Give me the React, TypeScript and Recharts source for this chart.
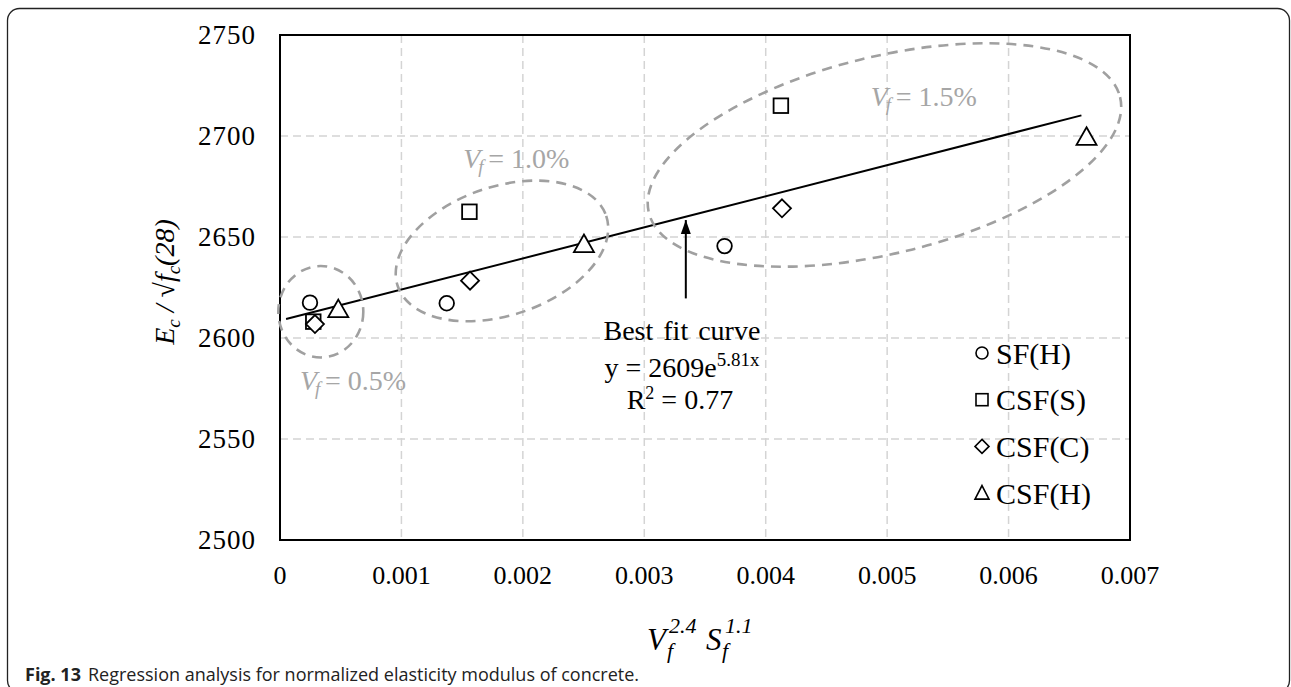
import React from 'react';
import {
  ComposedChart,
  XAxis,
  YAxis,
  CartesianGrid,
  Scatter,
  Line,
  ReferenceDot,
  ReferenceLine,
  ReferenceArea,
} from 'recharts';

const SERIF = '"Liberation Serif", "Times New Roman", serif';
const SANS = '"Open Sans", "Noto Sans", sans-serif';

// ---- axis ticks ----
const X_TICKS = [0, 0.001, 0.002, 0.003, 0.004, 0.005, 0.006, 0.007];
const X_TICK_LABELS = ['0', '0.001', '0.002', '0.003', '0.004', '0.005', '0.006', '0.007'];
const Y_TICKS = [2500, 2550, 2600, 2650, 2700, 2750];

// ---- series (x = Vf^2.4 Sf^1.1, y = Ec / sqrt(fc(28))) ----
const SF_H = [
  { x: 0.000247, y: 2617.5 },
  { x: 0.001373, y: 2617.2 },
  { x: 0.003661, y: 2645.5 },
];
const CSF_S = [
  { x: 0.000274, y: 2608.1 },
  { x: 0.00156, y: 2662.5 },
  { x: 0.004125, y: 2715.0 },
];
const CSF_C = [
  { x: 0.000288, y: 2606.9 },
  { x: 0.001565, y: 2628.4 },
  { x: 0.004134, y: 2664.2 },
];
const CSF_H = [
  { x: 0.00048, y: 2614.3 },
  { x: 0.002503, y: 2646.5 },
  { x: 0.006642, y: 2699.6 },
];
// best fit curve
const FIT = [
  { x: 0.00005, y: 2609.4 },
  { x: 0.0033, y: 2659.4 },
  { x: 0.0066, y: 2710.2 },
];

// ---- annotation groups (Vf = 0.5 / 1.0 / 1.5 %) ----
const GROUP_LABELS = ['0.5', '1.0', '1.5'];
const GROUP_CENTERS = [
  { x: 0.000336, y: 2613.0 },
  { x: 0.001828, y: 2643.1 },
  { x: 0.004978, y: 2690.6 },
];
const GROUP_LABEL_POS = [
  { x: 0.000165, y: 2579.2 },
  { x: 0.001509, y: 2689.1 },
  { x: 0.004865, y: 2719.5 },
];
const ELLIPSE_GEOM = [
  { rx: 42.5, ry: 45.7, angle: 0 },
  { rx: 110, ry: 64.3, angle: -18.6 },
  { rx: 242.6, ry: 98.4, angle: -13.8 },
];
const ARROW_TIP = { x: 0.003342, y: 2658.4 };
const ARROW_BASE = { x: 0.003342, y: 2619.6 };
const FIT_TEXT_POS = { x: 0.00331, y: 2604 };

const LEGEND = [
  { name: 'SF(H)', shape: 'circle' },
  { name: 'CSF(S)', shape: 'square' },
  { name: 'CSF(C)', shape: 'diamond' },
  { name: 'CSF(H)', shape: 'triangle' },
];

const MARK = { fill: '#fff', stroke: '#000', strokeWidth: 1.8 };

const CircleMark = (p: any) => <circle cx={p.cx} cy={p.cy} r={7.3} {...MARK} />;
const SquareMark = (p: any) => (
  <rect x={p.cx - 7.3} y={p.cy - 7.3} width={14.6} height={14.6} {...MARK} />
);
const DiamondMark = (p: any) => (
  <polygon
    points={`${p.cx},${p.cy - 9} ${p.cx + 9},${p.cy} ${p.cx},${p.cy + 9} ${p.cx - 9},${p.cy}`}
    {...MARK}
  />
);
const TriangleMark = (p: any) => (
  <polygon
    points={`${p.cx},${p.cy - 9.5} ${p.cx + 10},${p.cy + 8} ${p.cx - 10},${p.cy + 8}`}
    {...MARK}
  />
);

const XTick = (p: any) => (
  <text
    x={p.x}
    y={p.y + 35}
    dy="0.35em"
    textAnchor="middle"
    fontFamily={SERIF}
    fontSize={26}
    fill="#000"
  >
    {X_TICK_LABELS[p.index] ?? String(p.payload.value)}
  </text>
);
const YTick = (p: any) => (
  <text
    x={p.x - 24}
    y={p.y}
    dy="0.35em"
    textAnchor="end"
    fontFamily={SERIF}
    fontSize={27}
    letterSpacing={1}
    fill="#000"
  >
    {String(p.payload.value)}
  </text>
);

const makeEllipse = (i: number) => (p: any) => {
  const g = ELLIPSE_GEOM[i];
  return (
    <ellipse
      cx={p.cx}
      cy={p.cy}
      rx={g.rx}
      ry={g.ry}
      transform={`rotate(${g.angle} ${p.cx} ${p.cy})`}
      fill="none"
      stroke="#a0a0a0"
      strokeWidth={2.6}
      strokeDasharray="10 7"
    />
  );
};

const makeGroupLabel = (i: number) => (p: any) => (
  <g fontFamily={SERIF} fill="#a6a6a6">
    <text x={p.cx} y={p.cy} dy="0.35em" fontSize={28} fontStyle="italic">
      V
    </text>
    <text x={p.cx + 15} y={p.cy + 8} dy="0.35em" fontSize={19} fontStyle="italic">
      f
    </text>
    <text x={p.cx + 25} y={p.cy} dy="0.35em" fontSize={28}>
      {`= ${GROUP_LABELS[i]}%`}
    </text>
  </g>
);

const ArrowHead = (p: any) => (
  <polygon
    points={`${p.cx},${p.cy} ${p.cx - 5},${p.cy + 14} ${p.cx + 5},${p.cy + 14}`}
    fill="#000"
  />
);

const FitText = (p: any) => (
  <g fontFamily={SERIF} fontSize={28} fill="#000">
    <text x={p.cx} y={p.cy} dy="0.35em" textAnchor="middle" wordSpacing={3}>
      Best fit curve
    </text>
    <text x={p.cx} y={p.cy + 37} dy="0.35em" textAnchor="middle">
      <tspan>y = 2609e</tspan>
      <tspan fontSize={19} dy={-11}>
        5.81x
      </tspan>
    </text>
    <text x={p.cx - 2} y={p.cy + 69} dy="0.35em" textAnchor="middle">
      <tspan>R</tspan>
      <tspan fontSize={18} dy={-10}>
        2
      </tspan>
      <tspan dy={10}> = 0.77</tspan>
    </text>
  </g>
);

const legendIcon = (shape: string, cx: number, cy: number) => {
  const s = { fill: '#fff', stroke: '#000', strokeWidth: 1.6 };
  if (shape === 'circle') return <circle cx={cx} cy={cy} r={6} {...s} />;
  if (shape === 'square')
    return <rect x={cx - 6} y={cy - 6} width={12} height={12} {...s} />;
  if (shape === 'diamond')
    return (
      <polygon
        points={`${cx},${cy - 7} ${cx + 7},${cy} ${cx},${cy + 7} ${cx - 7},${cy}`}
        {...s}
      />
    );
  return (
    <polygon points={`${cx},${cy - 7.5} ${cx + 7},${cy + 6} ${cx - 7},${cy + 6}`} {...s} />
  );
};

export default function App() {
  return (
    <div
      style={{
        position: 'absolute',
        left: 0,
        top: 0,
        width: 1291,
        height: 687,
        background: '#fff',
        overflow: 'hidden',
      }}
    >
      <svg width={1291} height={687} style={{ position: 'absolute', left: 0, top: 0 }}>
        <rect
          x={7.5}
          y={8.5}
          width={1282}
          height={684}
          rx={12}
          fill="none"
          stroke="#222"
          strokeWidth={1.3}
        />
      </svg>
      <div style={{ position: 'absolute', left: 0, top: 0 }}>
        <ComposedChart
          width={1291}
          height={687}
          margin={{ top: 35, right: 161, bottom: 0, left: 0 }}
        >
          <CartesianGrid stroke="#d4d4d4" strokeWidth={1.5} strokeDasharray="8 5" />
          <XAxis
            type="number"
            dataKey="x"
            domain={[0, 0.007]}
            ticks={X_TICKS}
            interval={0}
            height={147}
            tickLine={false}
            tickSize={0}
            tickMargin={0}
            axisLine={{ stroke: '#000', strokeWidth: 2 }}
            tick={<XTick />}
            allowDataOverflow
          />
          <YAxis
            type="number"
            dataKey="y"
            domain={[2500, 2750]}
            ticks={Y_TICKS}
            interval={0}
            width={280}
            tickLine={false}
            tickSize={0}
            tickMargin={0}
            axisLine={{ stroke: '#000', strokeWidth: 2 }}
            tick={<YTick />}
            allowDataOverflow
          />
          <ReferenceArea
            x1={0}
            x2={0.007}
            y1={2500}
            y2={2750}
            fill="none"
            fillOpacity={0}
            stroke="#000"
            strokeWidth={2}
          />
          {GROUP_CENTERS.map((c, i) => (
            <ReferenceDot key={'e' + i} x={c.x} y={c.y} r={1} shape={makeEllipse(i)} />
          ))}
          {GROUP_LABEL_POS.map((c, i) => (
            <ReferenceDot key={'l' + i} x={c.x} y={c.y} r={1} shape={makeGroupLabel(i)} />
          ))}
          <ReferenceLine
            segment={[
              { x: ARROW_BASE.x, y: ARROW_BASE.y },
              { x: ARROW_TIP.x, y: ARROW_TIP.y },
            ]}
            stroke="#000"
            strokeWidth={2}
          />
          <ReferenceDot x={ARROW_TIP.x} y={ARROW_TIP.y} r={1} shape={ArrowHead} />
          <ReferenceDot x={FIT_TEXT_POS.x} y={FIT_TEXT_POS.y} r={1} shape={FitText} />
          <Line
            data={FIT}
            dataKey="y"
            type="linear"
            stroke="#000"
            strokeWidth={2}
            dot={false}
            activeDot={false}
            isAnimationActive={false}
          />
          <Scatter data={SF_H} shape={CircleMark} isAnimationActive={false} />
          <Scatter data={CSF_S} shape={SquareMark} isAnimationActive={false} />
          <Scatter data={CSF_C} shape={DiamondMark} isAnimationActive={false} />
          <Scatter data={CSF_H} shape={TriangleMark} isAnimationActive={false} />
        </ComposedChart>
      </div>
      <svg
        width={1291}
        height={687}
        style={{ position: 'absolute', left: 0, top: 0, pointerEvents: 'none' }}
      >
        {/* legend */}
        {LEGEND.map((it, i) => {
          const cy = 353 + i * 46.7;
          return (
            <g key={it.name}>
              {legendIcon(it.shape, 982, cy)}
              <text
                x={996}
                y={cy}
                dy="0.35em"
                fontFamily={SERIF}
                fontSize={30}
                fill="#000"
              >
                {it.name}
              </text>
            </g>
          );
        })}
        {/* y axis title */}
        <text
          transform="translate(174 282) rotate(-90)"
          textAnchor="middle"
          fontFamily={SERIF}
          fontSize={28}
          fontStyle="italic"
          fill="#000"
        >
          <tspan>E</tspan>
          <tspan fontSize={19} dy={6}>
            c
          </tspan>
          <tspan dy={-6}> / √f</tspan>
          <tspan fontSize={19} dy={6}>
            c
          </tspan>
          <tspan dy={-6}>(28)</tspan>
        </text>
        {/* x axis title */}
        <g fontFamily={SERIF} fontStyle="italic" fill="#000">
          <text x={647} y={650} fontSize={31}>
            V
          </text>
          <text x={667} y={658} fontSize={22}>
            f
          </text>
          <text x={669} y={633} fontSize={22}>
            2.4
          </text>
          <text x={706} y={650} fontSize={31}>
            S
          </text>
          <text x={722} y={658} fontSize={22}>
            f
          </text>
          <text x={725} y={633} fontSize={22}>
            1.1
          </text>
        </g>
        {/* caption */}
        <text x={25} y={681} fontFamily={SANS} fontSize={18} fill="#222">
          <tspan fontWeight="bold">Fig. 13</tspan>
          <tspan x={88}>Regression analysis for normalized elasticity modulus of concrete.</tspan>
        </text>
      </svg>
    </div>
  );
}
